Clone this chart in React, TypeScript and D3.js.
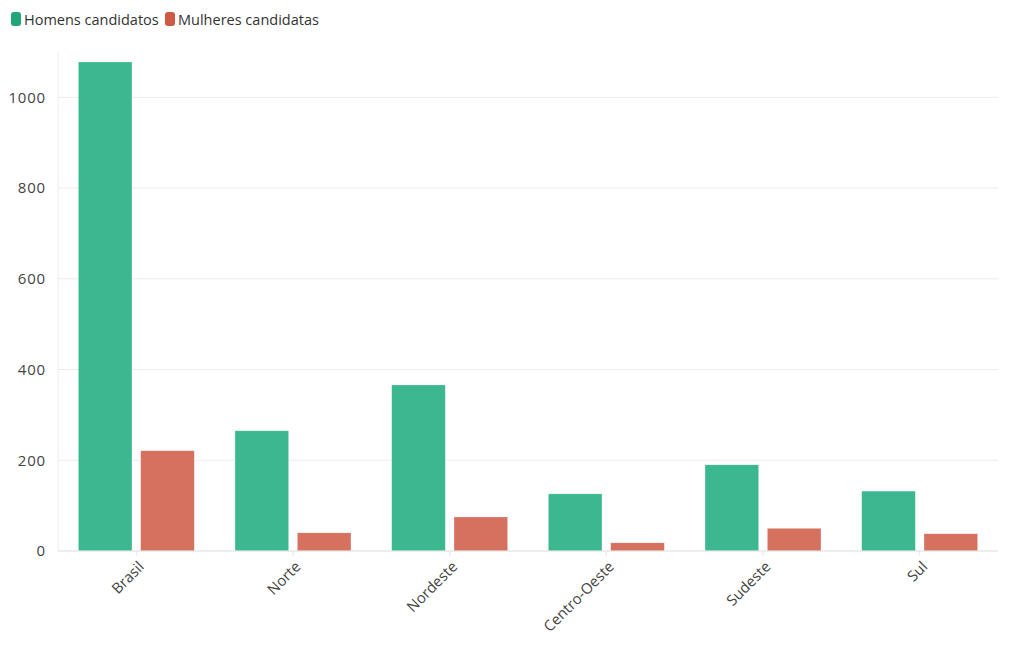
import React from "react";
import * as d3 from "d3";

const categories = ["Brasil", "Norte", "Nordeste", "Centro-Oeste", "Sudeste", "Sul"];
const seriesNames = ["Homens candidatos", "Mulheres candidatas"];
const homens = [1078, 265, 366, 126, 190, 132];
const mulheres = [221, 40, 75, 18, 50, 38];
const yTicks = [0, 200, 400, 600, 800, 1000];

const W = 1020, H = 650;
const M = { left: 58, right: 22, top: 52, bottom: 99 };
const barColors = ["#3cb891", "#d6705f"];
const legendColors = ["#1fa577", "#cf5a43"];
const font = "'Open Sans', 'Noto Sans', sans-serif";

export default function App() {
  const x0 = d3.scaleBand<string>().domain(categories).range([M.left, W - M.right]).paddingInner(0.26).paddingOuter(0.13);
  const x1 = d3.scaleBand<string>().domain(seriesNames).range([0, x0.bandwidth()]).paddingInner(0.14);
  const y = d3.scaleLinear().domain([0, 1100]).range([H - M.bottom, M.top]);
  const series = [homens, mulheres];
  return (
    <svg width={W} height={H} style={{ position: "absolute", left: 0, top: 0, fontFamily: font }}>
      <rect width={W} height={H} fill="#fff" />
      {yTicks.map((t) => (
        <g key={t}>
          <line x1={M.left} x2={W - M.right} y1={y(t)} y2={y(t)} stroke="#ececec" />
          <text x={M.left - 12} y={y(t)} dy="0.35em" textAnchor="end" fontSize={15} letterSpacing={0.8} fill="#444">{t}</text>
        </g>
      ))}
      <line x1={M.left} x2={M.left} y1={M.top} y2={y(0)} stroke="#ececec" />
      {categories.map((c, i) => (
        <g key={c}>
          {series.map((s, j) => (
            <rect key={j} x={x0(c)! + x1(seriesNames[j])!} y={y(s[i])} width={x1.bandwidth()} height={y(0) - y(s[i])}
              fill={barColors[j]} stroke="#fff" strokeOpacity={0.5} strokeWidth={0.5} />
          ))}
          <line x1={x0(c)! + x0.bandwidth() / 2} x2={x0(c)! + x0.bandwidth() / 2} y1={y(0)} y2={y(0) + 5} stroke="#e6e6e6" />
          <text transform={`translate(${x0(c)! + x0.bandwidth() / 2 + 5},${y(0) + 13}) rotate(-45)`} textAnchor="end"
            fontSize={14.8} fill="#444" dy="0.35em">{c}</text>
        </g>
      ))}
      <line x1={M.left} x2={W - M.right} y1={y(0)} y2={y(0)} stroke="#e6e6e6" />
      <g>
        <rect x={11} y={12} width={10} height={14} rx={3} fill={legendColors[0]} />
        <text x={24} y={20} dy="0.35em" fontSize={14.5} fill="#333">{seriesNames[0]}</text>
        <rect x={165} y={12} width={10} height={14} rx={3} fill={legendColors[1]} />
        <text x={178} y={20} dy="0.35em" fontSize={14.5} fill="#333">{seriesNames[1]}</text>
      </g>
    </svg>
  );
}
